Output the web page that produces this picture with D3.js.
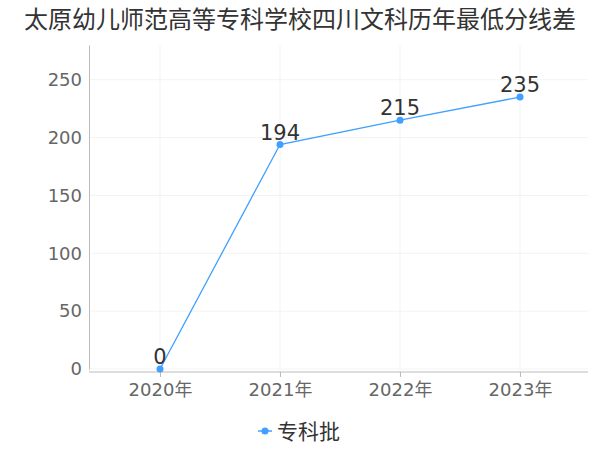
<!DOCTYPE html>
<html>
<head>
<meta charset="utf-8">
<script src="https://cdn.jsdelivr.net/npm/d3@7"></script>
<style>
body{margin:0;background:#fff;}
text{font-family:"DejaVu Sans","Noto Sans CJK SC",sans-serif;}
</style>
</head>
<body>
<svg id="svg" width="600" height="450"></svg>
<script>
var years = ["2020年","2021年","2022年","2023年"];
var values = [0,194,215,235];
var yTicks = [0,50,100,150,200,250];
var seriesName = "专科批";
var title = "太原幼儿师范高等专科学校四川文科历年最低分线差";

var svg = d3.select("#svg");
var color = "#3fa0ff";

var x = d3.scalePoint().domain(years).range([160,520]);
var y = d3.scaleLinear().domain([0,280]).range([369,45]);

// title
svg.append("text")
    .attr("x", 300).attr("y", 28)
    .attr("text-anchor", "middle")
    .attr("font-size", 24)
    .attr("fill", "#333")
    .text(title);

// grid
svg.selectAll(".hg").data(yTicks).enter().append("line")
    .attr("x1", 89).attr("x2", 588)
    .attr("y1", function(d){return y(d)}).attr("y2", function(d){return y(d)})
    .attr("stroke", "#f3f3f3");
svg.selectAll(".vg").data(years).enter().append("line")
    .attr("x1", function(d){return x(d)}).attr("x2", function(d){return x(d)})
    .attr("y1", 45).attr("y2", 372)
    .attr("stroke", "#f3f3f3");

// y axis
var ya = svg.append("g").attr("transform", "translate(89,0)")
    .call(d3.axisLeft(y).tickValues(yTicks).tickSize(0).tickPadding(7));
ya.select(".domain").attr("stroke", "#bbb");
ya.selectAll("text").attr("font-size", 18).attr("fill", "#666");

// x axis
var xa = svg.append("g").attr("transform", "translate(0,372)")
    .call(d3.axisBottom(x).tickSize(5).tickPadding(6));
xa.select(".domain").remove();
xa.append("line").attr("x1", 89).attr("x2", 588).attr("stroke", "#bbb");
xa.selectAll(".tick line").attr("stroke", "#bbb");
xa.selectAll("text").attr("font-size", 18).attr("fill", "#666");

// line
var line = d3.line()
    .x(function(d,i){return x(years[i])})
    .y(function(d){return y(d)});
svg.append("path").datum(values)
    .attr("d", line)
    .attr("fill", "none")
    .attr("stroke", color)
    .attr("stroke-width", 1.3);

svg.selectAll(".pt").data(values).enter().append("circle")
    .attr("cx", function(d,i){return x(years[i])})
    .attr("cy", function(d){return y(d)})
    .attr("r", 3.5)
    .attr("fill", color);

svg.selectAll(".lbl").data(values).enter().append("text")
    .attr("x", function(d,i){return x(years[i])})
    .attr("y", function(d){return y(d) - 5})
    .attr("text-anchor", "middle")
    .attr("font-size", 21)
    .attr("fill", "#333")
    .text(function(d){return d});

// legend
var lg = svg.append("g").attr("transform", "translate(258,431)");
lg.append("line").attr("x1", 0).attr("x2", 14).attr("stroke", color).attr("stroke-width", 1.5);
lg.append("circle").attr("cx", 7).attr("r", 3.5).attr("fill", color);
lg.append("text").attr("x", 19).attr("y", 8)
    .attr("font-size", 21).attr("fill", "#333")
    .text(seriesName);
</script>
</body>
</html>
